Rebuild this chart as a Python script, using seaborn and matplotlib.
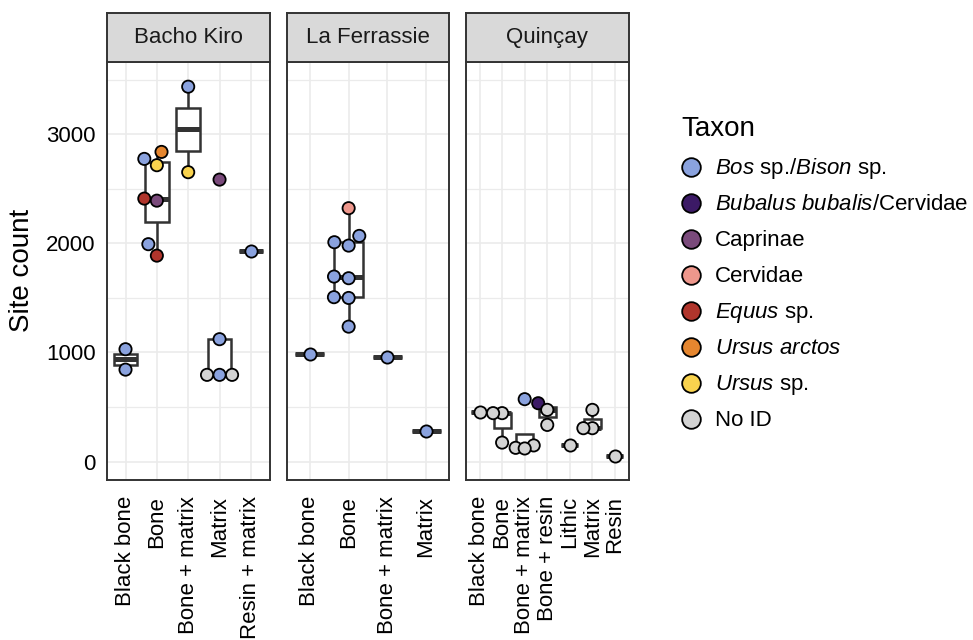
import matplotlib
matplotlib.use("Agg")
import matplotlib.pyplot as plt
from matplotlib.ticker import FixedLocator, MultipleLocator
import pandas as pd
import seaborn as sns

# ---- data -------------------------------------------------------------
sites = ["Bacho Kiro", "La Ferrassie", "Quinçay"]

bacho_kiro_order = ["Black bone", "Bone", "Bone + matrix", "Matrix", "Resin + matrix"]
la_ferrassie_order = ["Black bone", "Bone", "Bone + matrix", "Matrix"]
quincay_order = ["Black bone", "Bone", "Bone + matrix", "Bone + resin",
                 "Lithic", "Matrix", "Resin"]

taxa = ["Bos sp./Bison sp.", "Bubalus bubalis/Cervidae", "Caprinae", "Cervidae",
        "Equus sp.", "Ursus arctos", "Ursus sp.", "No ID"]
taxon_labels = [r"$\mathit{Bos}$ sp./$\mathit{Bison}$ sp.",
                r"$\mathit{Bubalus\ bubalis}$/Cervidae",
                "Caprinae",
                "Cervidae",
                r"$\mathit{Equus}$ sp.",
                r"$\mathit{Ursus\ arctos}$",
                r"$\mathit{Ursus}$ sp.",
                "No ID"]
taxon_colors = ["#8AA2DE", "#3C1A66", "#7A4A7B", "#EE978C",
                "#B0352C", "#E5862F", "#F9D34E", "#D3D3D3"]

bacho_kiro_material = ["Black bone", "Black bone",
                       "Bone", "Bone", "Bone", "Bone", "Bone", "Bone", "Bone",
                       "Bone + matrix", "Bone + matrix",
                       "Matrix", "Matrix", "Matrix", "Matrix", "Matrix",
                       "Resin + matrix"]
bacho_kiro_taxon = ["Bos sp./Bison sp.", "Bos sp./Bison sp.",
                    "Bos sp./Bison sp.", "Ursus arctos", "Ursus sp.", "Caprinae",
                    "Equus sp.", "Bos sp./Bison sp.", "Equus sp.",
                    "Bos sp./Bison sp.", "Ursus sp.",
                    "Bos sp./Bison sp.", "Bos sp./Bison sp.", "No ID", "No ID", "Caprinae",
                    "Bos sp./Bison sp."]
bacho_kiro_count = [1030, 843,
                    2775, 2839, 2717, 2392, 2411, 1993, 1888,
                    3437, 2653,
                    1122, 795, 795, 795, 2585,
                    1934]

la_ferrassie_material = ["Black bone",
                         "Bone", "Bone", "Bone", "Bone", "Bone", "Bone", "Bone", "Bone", "Bone",
                         "Bone + matrix",
                         "Matrix"]
la_ferrassie_taxon = ["Bos sp./Bison sp.",
                      "Cervidae", "Bos sp./Bison sp.", "Bos sp./Bison sp.",
                      "Bos sp./Bison sp.", "Bos sp./Bison sp.", "Bos sp./Bison sp.",
                      "Bos sp./Bison sp.", "Bos sp./Bison sp.", "Bos sp./Bison sp.",
                      "Bos sp./Bison sp.",
                      "Bos sp./Bison sp."]
la_ferrassie_count = [987,
                      2323, 2069, 2011, 1980, 1696, 1681, 1507, 1500, 1237,
                      962,
                      284]

quincay_material = ["Black bone",
                    "Bone", "Bone", "Bone",
                    "Bone + matrix", "Bone + matrix", "Bone + matrix", "Bone + matrix",
                    "Bone + resin", "Bone + resin", "Bone + resin",
                    "Lithic",
                    "Matrix", "Matrix", "Matrix",
                    "Resin"]
quincay_taxon = ["No ID",
                 "No ID", "No ID", "No ID",
                 "Bos sp./Bison sp.", "No ID", "No ID", "No ID",
                 "Bubalus bubalis/Cervidae", "No ID", "No ID",
                 "No ID",
                 "No ID", "No ID", "No ID",
                 "No ID"]
quincay_count = [458,
                 444, 444, 174,
                 572, 148, 126, 120,
                 535, 474, 336,
                 153,
                 474, 306, 306,
                 55]

site_orders = [bacho_kiro_order, la_ferrassie_order, quincay_order]
frames = [
    pd.DataFrame({"material": bacho_kiro_material, "taxon": bacho_kiro_taxon,
                  "count": bacho_kiro_count}),
    pd.DataFrame({"material": la_ferrassie_material, "taxon": la_ferrassie_taxon,
                  "count": la_ferrassie_count}),
    pd.DataFrame({"material": quincay_material, "taxon": quincay_taxon,
                  "count": quincay_count}),
]
palette = dict(zip(taxa, taxon_colors))

# ---- style ------------------------------------------------------------
sns.set_theme(style="white")
plt.rcParams["font.family"] = ["Liberation Sans", "DejaVu Sans"]
plt.rcParams["mathtext.fontset"] = "custom"
plt.rcParams["mathtext.rm"] = "Liberation Sans"
plt.rcParams["mathtext.it"] = "Liberation Sans:italic"
plt.rcParams["mathtext.bf"] = "Liberation Sans:bold"
plt.rcParams["text.color"] = "black"

DARK = "#333333"
GRID = "#EBEBEB"
STRIP = "#D9D9D9"

W, H = 973, 640
fig = plt.figure(figsize=(W / 100, H / 100), dpi=100)
fig.patch.set_facecolor("white")


def frac(x0, y0, x1, y1):
    return [x0 / W, 1 - y1 / H, (x1 - x0) / W, (y1 - y0) / H]


panel_x = [(106.7, 269.7), (286.7, 449.3), (466.0, 628.5)]
panel_top, panel_bottom, strip_top = 61.7, 480.0, 13.3

for i, site in enumerate(sites):
    x0, x1 = panel_x[i]
    order = site_orders[i]
    d = frames[i]
    ax = fig.add_axes(frac(x0, panel_top, x1, panel_bottom))

    sns.boxplot(data=d, x="material", y="count", order=order, color="white",
                saturation=1, width=0.75, showfliers=False, showcaps=False,
                linecolor=DARK, linewidth=1.8,
                medianprops=dict(linewidth=3.6), ax=ax)
    sns.swarmplot(data=d, x="material", y="count", order=order, hue="taxon",
                  hue_order=taxa, palette=palette, size=8.8, edgecolor="black",
                  linewidth=1.3, legend=False, warn_thresh=1, ax=ax, zorder=3)

    ax.set_xlim(-0.6, len(order) - 0.4)
    ax.set_ylim(-169, 3666)
    ax.set_xlabel("")
    ax.set_ylabel("")
    ax.set_facecolor("white")
    ax.set_axisbelow(True)
    ax.yaxis.set_major_locator(FixedLocator([0, 1000, 2000, 3000]))
    ax.yaxis.set_minor_locator(MultipleLocator(500))
    ax.grid(which="major", color=GRID, linewidth=1.2)
    ax.grid(which="minor", axis="y", color=GRID, linewidth=0.9)
    ax.tick_params(which="minor", length=0)
    ax.tick_params(which="major", direction="out", length=5, width=1.4,
                   color=DARK, labelsize=16, labelcolor="black", pad=3)
    ax.set_xticks(range(len(order)))
    ax.set_xticklabels(order, rotation=90, ha="center", va="top")
    ax.tick_params(axis="x", pad=6.5)
    if i > 0:
        ax.tick_params(axis="y", left=False, labelleft=False)
    for sp in ax.spines.values():
        sp.set_visible(True)
        sp.set_color(DARK)
        sp.set_linewidth(1.4)

    # facet strip
    sax = fig.add_axes(frac(x0, strip_top, x1, panel_top))
    sax.set_facecolor(STRIP)
    sax.set_xticks([])
    sax.set_yticks([])
    for sp in sax.spines.values():
        sp.set_visible(True)
        sp.set_color(DARK)
        sp.set_linewidth(1.4)
    sax.text(0.5, 0.5, site, transform=sax.transAxes, ha="center",
             va="center", fontsize=16, color="#1A1A1A")

fig.text(22.5 / W, 1 - 270.7 / H, "Site count", rotation=90, ha="center",
         va="center", fontsize=20, color="black")

# ---- legend -----------------------------------------------------------
lax = fig.add_axes([0, 0, 1, 1], facecolor="none")
lax.set_xlim(0, W)
lax.set_ylim(H, 0)
lax.axis("off")
lax.text(681.7, 136.0, "Taxon", fontsize=20, ha="left", va="baseline")
for k, (label, col) in enumerate(zip(taxon_labels, taxon_colors)):
    yc = 166.7 + 36.0 * k
    lax.scatter([690.5], [yc], s=180, color=col, edgecolor="black",
                linewidth=1.3, zorder=3)
    lax.text(715.0, yc + 7.0, label, fontsize=16, ha="left", va="baseline")

fig.savefig("out.png", dpi=100)
